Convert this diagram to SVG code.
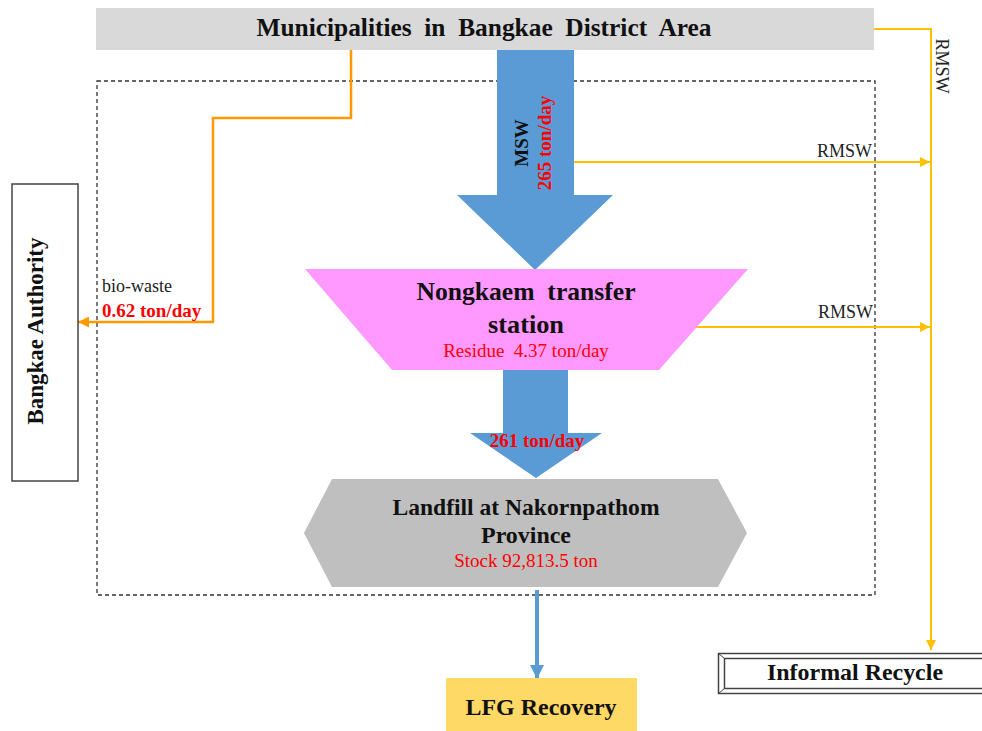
<svg xmlns="http://www.w3.org/2000/svg" width="982" height="731" viewBox="0 0 982 731">
  <defs>
    <style>
      .t { font-family: "Liberation Serif", "Times New Roman", serif; }
      .b { font-weight: bold; fill: #111; }
      .r { fill: #ff0000; }
      .n { fill: #222; }
      .y { stroke: #ffc000; stroke-width: 2; fill: none; }
      .o { stroke: #ff9900; stroke-width: 2.5; fill: none; }
    </style>
    <marker id="arrY" viewBox="0 0 10 10" refX="10" refY="5" markerWidth="10" markerHeight="10" markerUnits="userSpaceOnUse" orient="auto">
      <path d="M0,0 L10,5 L0,10 Z" fill="#ffc000"/>
    </marker>
    <marker id="arrO" viewBox="0 0 10 10" refX="10" refY="5" markerWidth="11" markerHeight="11" markerUnits="userSpaceOnUse" orient="auto">
      <path d="M0,0 L10,5 L0,10 Z" fill="#ff9900"/>
    </marker>
    <marker id="arrB" viewBox="0 0 10 10" refX="10" refY="5" markerWidth="14" markerHeight="14" markerUnits="userSpaceOnUse" orient="auto">
      <path d="M0,0 L10,5 L0,10 Z" fill="#5b9bd5"/>
    </marker>
  </defs>

  <rect width="982" height="731" fill="#ffffff"/>

  <!-- system boundary -->
  <rect x="97" y="81" width="778" height="514" fill="none" stroke="#333" stroke-width="1.3" stroke-dasharray="4 3"/>

  <!-- connectors -->
  <g id="connectors">
    <polyline class="y" points="874,29 931,29 931,650" marker-end="url(#arrY)"/>
    <line class="y" x1="574" y1="162" x2="930" y2="162" marker-end="url(#arrY)"/>
    <line class="y" x1="695" y1="327" x2="930" y2="327" marker-end="url(#arrY)"/>
    <polyline class="o" points="351,50 351,118 213,118 213,322 78,322" marker-end="url(#arrO)"/>
    <line x1="537" y1="590" x2="537" y2="679" stroke="#5b9bd5" stroke-width="4" marker-end="url(#arrB)"/>
    <text class="t n" x="872" y="157" font-size="18" text-anchor="end">RMSW</text>
    <text class="t n" x="873" y="318" font-size="18" text-anchor="end">RMSW</text>
    <text class="t n" transform="translate(936,66) rotate(90)" font-size="18" text-anchor="middle">RMSW</text>
    <text class="t n" x="102" y="292" font-size="18">bio-waste</text>
    <text class="t r" x="102" y="317" font-size="19" font-weight="bold">0.62 ton/day</text>
  </g>

  <!-- municipalities -->
  <g id="municipalities">
    <rect x="96" y="8" width="778" height="42" fill="#d9d9d9"/>
    <text class="t b" x="484" y="36" font-size="25" text-anchor="middle" textLength="455" lengthAdjust="spacingAndGlyphs" xml:space="preserve">Municipalities  in  Bangkae  District  Area</text>
  </g>

  <!-- MSW flow -->
  <g id="msw-flow">
    <polygon points="497,50 574,50 574,195 613,195 535,270 457,195 497,195" fill="#5b9bd5"/>
    <text class="t b" transform="translate(528,143) rotate(-90)" font-size="19" text-anchor="middle">MSW</text>
    <text class="t r" transform="translate(551,143) rotate(-90)" font-size="19" font-weight="bold" text-anchor="middle">265 ton/day</text>
  </g>

  <!-- transfer station -->
  <g id="transfer-station">
    <polygon points="305,269 748,269 659,370 392,370" fill="#ff99ff"/>
    <text class="t b" x="526" y="300" font-size="25" text-anchor="middle" textLength="219" lengthAdjust="spacingAndGlyphs" xml:space="preserve">Nongkaem  transfer</text>
    <text class="t b" x="526" y="333" font-size="25" text-anchor="middle" textLength="76" lengthAdjust="spacingAndGlyphs">station</text>
    <text class="t r" x="526" y="357" font-size="19" text-anchor="middle" xml:space="preserve">Residue  4.37 ton/day</text>
  </g>

  <!-- residual flow -->
  <g id="residual-flow">
    <polygon points="503,370 568,370 568,433 602,433 536,478 470,433 503,433" fill="#5b9bd5"/>
    <text class="t r" x="537" y="447" font-size="19" font-weight="bold" text-anchor="middle">261 ton/day</text>
  </g>

  <!-- landfill -->
  <g id="landfill">
    <polygon points="332,479 718,479 747,533 718,587 332,587 304,533" fill="#bfbfbf"/>
    <text class="t b" x="526" y="515" font-size="23" text-anchor="middle" textLength="267" lengthAdjust="spacingAndGlyphs">Landfill at Nakornpathom</text>
    <text class="t b" x="526" y="543" font-size="23" text-anchor="middle" textLength="90" lengthAdjust="spacingAndGlyphs">Province</text>
    <text class="t r" x="526" y="567" font-size="19" text-anchor="middle">Stock 92,813.5 ton</text>
  </g>

  <!-- Bangkae authority -->
  <g id="bangkae-authority">
    <rect x="12" y="184" width="66" height="297" fill="#fff" stroke="#444" stroke-width="1.5"/>
    <text class="t b" transform="translate(43,331) rotate(-90)" font-size="23" text-anchor="middle" textLength="187" lengthAdjust="spacingAndGlyphs">Bangkae Authority</text>
  </g>

  <!-- LFG recovery -->
  <g id="lfg-recovery">
    <rect x="446" y="678" width="191" height="60" fill="#ffd966"/>
    <text class="t b" x="541" y="715" font-size="23" text-anchor="middle" textLength="151" lengthAdjust="spacingAndGlyphs">LFG Recovery</text>
  </g>

  <!-- informal recycle -->
  <g id="informal-recycle">
    <rect x="718.5" y="653.5" width="280" height="40" fill="#fff" stroke="#444" stroke-width="1.5"/>
    <rect x="724.5" y="658.5" width="270" height="30" fill="none" stroke="#444" stroke-width="1.5"/>
    <line x1="718.5" y1="653.5" x2="724.5" y2="658.5" stroke="#444" stroke-width="1"/>
    <line x1="718.5" y1="693.5" x2="724.5" y2="688.5" stroke="#444" stroke-width="1"/>
    <text class="t b" x="855" y="680" font-size="23" text-anchor="middle" textLength="176" lengthAdjust="spacingAndGlyphs">Informal Recycle</text>
  </g>
</svg>
